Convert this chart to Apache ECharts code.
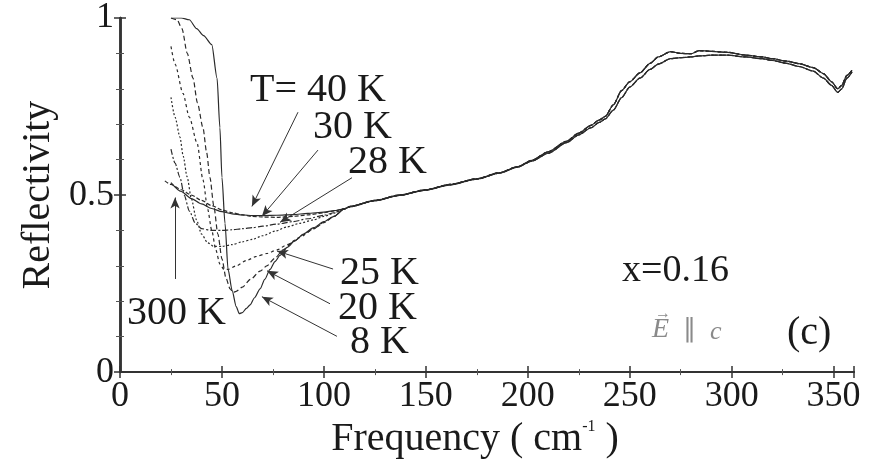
<!DOCTYPE html>
<html><head><meta charset="utf-8">
<script src="https://cdn.jsdelivr.net/npm/echarts@6/dist/echarts.min.js"></script>
<style>html,body{margin:0;padding:0;background:#fff}#c{width:873px;height:464px}</style>
</head><body><div id="c"></div>
<script>
// ---- data ----
const xTicks = [0, 50, 100, 150, 200, 250, 300, 350];
const yTicks = [0, 0.5, 1];
const temps = ['8 K', '20 K', '25 K', '28 K', '30 K', '40 K', '300 K'];

// common high-frequency part (two slightly different traces)
const freqHigh  = [110,113,125,137,150,162,175,186,195,202,210,219,225,231,235,238,242,246,250,255,260,264,270,275,280,284,290,298,307,315,320,327,333,340,345,349,352,354,356.5,359];
const reflHighA = [0.461,0.468,0.485,0.5,0.515,0.53,0.546,0.563,0.58,0.598,0.622,0.652,0.675,0.697,0.712,0.722,0.755,0.795,0.82,0.845,0.872,0.89,0.905,0.9,0.899,0.908,0.906,0.903,0.895,0.89,0.885,0.878,0.871,0.86,0.843,0.82,0.8,0.81,0.838,0.852];
const reflHighB = [0.461,0.467,0.484,0.499,0.514,0.529,0.545,0.562,0.579,0.596,0.618,0.648,0.67,0.69,0.705,0.715,0.74,0.775,0.805,0.83,0.855,0.87,0.885,0.888,0.89,0.893,0.895,0.895,0.89,0.885,0.88,0.872,0.863,0.85,0.83,0.81,0.79,0.8,0.83,0.848];

// low-frequency parts
const freq8K  = [25,30,34,37.6,41,45,47.6,49,50,51.5,53,55,57,58.5,60,62,63.8,66,68.7,71,73.6,76,78.5,82,86,90,95,100,105];
const refl8K  = [1.0,1.0,0.995,0.97,0.95,0.925,0.83,0.69,0.55,0.42,0.29,0.23,0.185,0.165,0.168,0.18,0.19,0.21,0.235,0.262,0.29,0.312,0.33,0.352,0.372,0.39,0.408,0.425,0.44];
const freq20K = [25,28,30.4,33,35.8,38,40.7,42.5,44.1,46,48,50,52,54,55.5,57,60,64,68.7,72,76,80,85,90,95,100,105];
const refl20K = [1.0,0.995,0.97,0.9,0.83,0.76,0.69,0.62,0.55,0.47,0.39,0.32,0.265,0.235,0.225,0.228,0.24,0.262,0.285,0.3,0.322,0.345,0.368,0.388,0.405,0.423,0.44];
const freq25K = [25,27,30.9,34,37.8,40.7,43,45,47,49,51,53,57,62,67,72,77,82,88,95,100,105];
const refl25K = [0.92,0.87,0.787,0.72,0.647,0.543,0.46,0.4,0.345,0.305,0.29,0.29,0.3,0.315,0.327,0.335,0.345,0.36,0.38,0.405,0.422,0.44];
const freq28K = [25,27,29.4,31,32.9,35,37.5,40,43,46,50,55,60,65,70,76,82,88,95,100,105];
const refl28K = [0.776,0.72,0.664,0.61,0.552,0.49,0.43,0.39,0.365,0.355,0.355,0.36,0.368,0.375,0.385,0.398,0.41,0.42,0.43,0.44,0.449];
const freq30K = [25,27,29.4,31.5,34,37,40,45,50,55,60,65,70,77,85,92,100,105];
const refl30K = [0.63,0.59,0.55,0.5,0.455,0.42,0.405,0.4,0.4,0.402,0.405,0.408,0.412,0.418,0.425,0.433,0.443,0.45];
const freq40K = [25,30,35,40,45,50,55,60,65,70,77,85,92,100,105];
const refl40K = [0.535,0.51,0.49,0.475,0.462,0.453,0.447,0.444,0.442,0.442,0.443,0.445,0.448,0.452,0.456];
const freq300K = [22,25,30,35,40,45,50,55,60,65,70,77,85,92,100,105];
const refl300K = [0.54,0.53,0.515,0.5,0.485,0.47,0.458,0.45,0.444,0.44,0.438,0.437,0.44,0.444,0.45,0.455];

// arrows: [label end, tip] in data units
const arrows = [
  [[87.3,0.734],[64.7,0.468]],
  [[97.1,0.627],[69.6,0.44]],
  [[113.8,0.549],[78.5,0.423]],
  [[104.5,0.291],[77,0.342]],
  [[103,0.193],[72.1,0.286]],
  [[106.4,0.101],[69.6,0.213]],
  [[27,0.263],[27,0.493]]
];

// ---- build ----
function join(fl, rl, fh, rh) {
  return fl.map((f, i) => [f, rl[i]]).concat(fh.map((f, i) => [f, rh[i]]));
}
const curves = [
  { name: temps[0], data: join(freq8K, refl8K, freqHigh, reflHighA), type: 'solid' },
  { name: temps[1], data: join(freq20K, refl20K, freqHigh, reflHighB), type: [5, 3] },
  { name: temps[2], data: join(freq25K, refl25K, freqHigh, reflHighA), type: [3, 3] },
  { name: temps[3], data: join(freq28K, refl28K, freqHigh, reflHighB), type: [2, 2] },
  { name: temps[4], data: join(freq30K, refl30K, freqHigh, reflHighA), type: [6, 2, 2, 2] },
  { name: temps[5], data: join(freq40K, refl40K, freqHigh, reflHighB), type: 'solid' },
  { name: temps[6], data: join(freq300K, refl300K, freqHigh, reflHighA), type: [4, 2] }
];

const FONT = '"Liberation Serif", "Times New Roman", serif';
const ink = '#1a1a1a';
const chart = echarts.init(document.getElementById('c'), null, { renderer: 'canvas' });

const series = curves.map(c => ({
  type: 'line', name: c.name, data: c.data, showSymbol: false, smooth: 0.25, smoothMonotone: 'x',
  lineStyle: { color: '#2a2a2a', width: 1.2, type: c.type }, silent: true, animation: false, z: 3
}));
series.push({
  type: 'line', data: [], silent: true, animation: false,
  markLine: {
    silent: true, animation: false, symbol: ['none', 'arrow'], symbolSize: [7, 11],
    label: { show: false },
    lineStyle: { color: '#333', width: 1, type: 'solid' },
    data: arrows.map(a => [{ coord: a[0] }, { coord: a[1] }])
  }
});

function txt(x, y, s, size, extra) {
  return Object.assign({
    type: 'text', x: x, y: y, silent: true, z: 10,
    style: Object.assign({ text: s, font: size + 'px ' + FONT, fill: ink, align: 'left', verticalAlign: 'middle' }, extra || {})
  });
}

const axisCommonX = {
  type: 'value', min: 0, max: 360, interval: 50,
  axisLine: { lineStyle: { color: '#333', width: 2 } },
  axisTick: { inside: true, length: 6, lineStyle: { color: '#333', width: 1.5 } },
  minorTick: { show: true, splitNumber: 2, length: 3, lineStyle: { color: '#555' } },
  splitLine: { show: false }
};
const axisCommonY = {
  type: 'value', min: 0, max: 1, interval: 0.5,
  axisLine: { lineStyle: { color: '#333', width: 2.5 } },
  axisTick: { inside: true, length: 6, lineStyle: { color: '#333', width: 1.5 } },
  minorTick: { show: true, splitNumber: 5, length: 4, lineStyle: { color: '#555' } },
  splitLine: { show: false }
};

chart.setOption({
  animation: false,
  backgroundColor: '#fff',
  grid: { left: 120, top: 17, right: 19, bottom: 90 },
  xAxis: [
    Object.assign({}, axisCommonX, {
      position: 'bottom',
      axisLabel: { fontFamily: FONT, fontSize: 36, color: ink, margin: 6, showMaxLabel: false },
      name: 'Frequency ( cm{s|-1} )', nameLocation: 'middle', nameGap: 45,
      nameTextStyle: { fontFamily: FONT, fontSize: 40, color: ink, padding: [0, 24, 0, 0],
        rich: { s: { fontFamily: FONT, fontSize: 16, color: ink, verticalAlign: 'top', padding: [0, 0, 14, 0] } } }
    }),
    Object.assign({}, axisCommonX, { position: 'top', axisLabel: { show: false } })
  ],
  yAxis: [
    Object.assign({}, axisCommonY, {
      position: 'left',
      axisLabel: { fontFamily: FONT, fontSize: 36, color: ink, margin: 6 },
      name: 'Reflectivity', nameLocation: 'middle', nameGap: 62,
      nameTextStyle: { fontFamily: FONT, fontSize: 40, color: ink }
    }),
    Object.assign({}, axisCommonY, { position: 'right', axisLabel: { show: false } })
  ],
  series: series,
  graphic: [
    txt(250, 90, 'T= 40 K', 40),
    txt(313, 127, '30 K', 40),
    txt(348, 162, '28 K', 40),
    txt(340, 273, '25 K', 40),
    txt(338, 308, '20 K', 40),
    txt(350, 342, '8 K', 40),
    txt(127, 313, '300 K', 40),
    txt(622, 271, 'x=0.16', 38),
    txt(652, 330, 'E', 28, { fill: '#8a8a8a', font: 'italic 28px ' + FONT }),
    txt(655, 314, '\u2192', 16, { fill: '#8a8a8a' }),
    txt(683, 330, '\u2225', 26, { fill: '#8a8a8a' }),
    txt(710, 332, 'c', 26, { fill: '#8a8a8a', font: 'italic 26px ' + FONT }),
    txt(787, 333, '(c)', 40)
  ]
});
</script></body></html>
